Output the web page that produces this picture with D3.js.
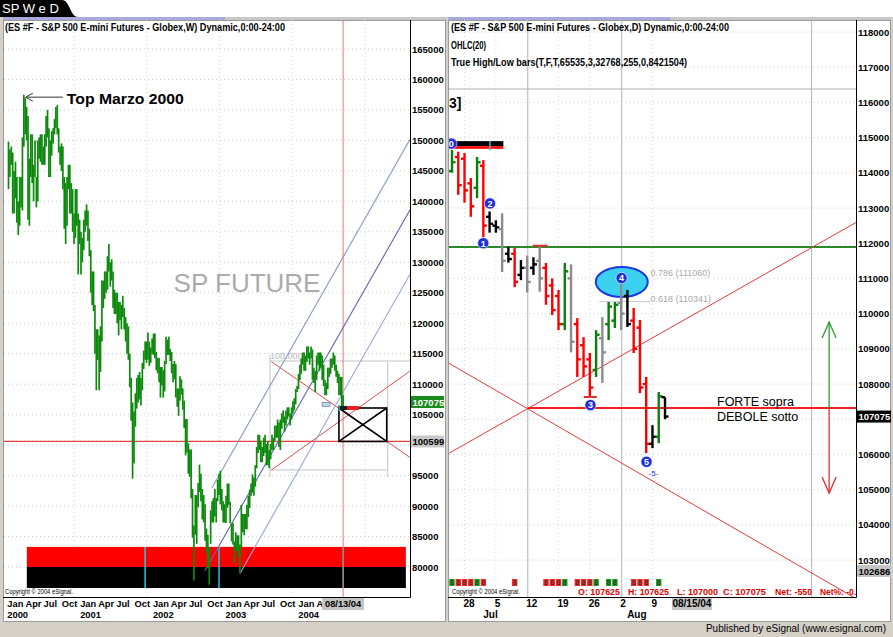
<!DOCTYPE html>
<html><head><meta charset="utf-8">
<script src="https://cdn.jsdelivr.net/npm/d3@7"></script>
<style>
body{margin:0;background:#d4d0c8;}
svg{display:block;}
text{font-family:"Liberation Sans",Arial,sans-serif;}
</style></head><body>
<svg id="c" width="893" height="637"></svg>
<script>
// ================= DATA =================
// Weekly ES bars (index points), weeks ending Friday, first week 2000-01-07
const weeklyStart = "2000-01-07";
const weeklyHigh = [
1498,1485,1490,1480,1450,1465,1440,1400,1440,1440,1505,1575,1570,1555,1540,1470,1510,1510,1460,1500,1440,1500,1505,1510,1510,1490,1510,1540,1550,1520,1500,1515,1520,1535,1555,1558,1520,1490,1495,1490,1440,1430,1440,1460,1460,1430,1420,1380,1420,1420,1380,1370,
1350,1340,1370,1385,1395,1385,1355,1320,1285,1285,1230,1190,1190,1180,1195,1270,1270,1285,1285,1310,1330,1300,1305,1285,1255,1250,1250,1235,1235,1230,1245,1225,1210,1200,1195,1150,1110,1070,1055,1085,1110,1115,1120,1110,1135,1155,1170,1170,1185,1170,1160,1175,
1183,1183,1153,1143,1143,1128,1128,1123,1138,1178,1173,1178,1158,1153,1133,1138,1133,1093,1093,1113,1108,1093,1073,1043,1043,1003,993,993,928,868,918,918,938,968,953,928,918,903,863,853,833,893,908,913,928,913,943,953,958,928,908,903,
917,937,937,907,872,872,842,857,852,852,837,902,887,887,887,902,917,927,937,952,947,967,997,1017,1017,1007,997,1012,1017,1002,1007,992,1002,1017,1012,1032,1032,1042,1037,1042,1052,1057,1047,1057,1062,1062,1052,1062,1072,1077,1092,1097,
1117,1132,1142,1152,1152,1147,1162,1162,1152,1162,1157,1127,1122,1147,1152,1152,1152,1147,1132,1107,1102,1127,1127,1142,1142,1152,1147,1132,1122,1117,1112,1112,1082];
const weeklyLow = [
1420,1440,1460,1380,1380,1405,1365,1345,1360,1390,1385,1490,1510,1500,1370,1360,1440,1430,1400,1440,1390,1400,1470,1465,1460,1460,1460,1490,1505,1440,1440,1475,1495,1510,1520,1510,1480,1460,1450,1420,1355,1330,1360,1420,1380,1380,1350,1330,1340,1360,1280,1330,
1280,1300,1320,1350,1360,1335,1310,1250,1230,1220,1150,1090,1140,1090,1120,1170,1225,1240,1250,1255,1285,1260,1270,1225,1215,1215,1200,1180,1205,1190,1210,1190,1170,1150,1140,1095,1040,945,970,1030,1060,1070,1075,1065,1090,1125,1140,1135,1140,1130,1135,1150,
1148,1143,1123,1118,1103,1078,1098,1078,1088,1133,1148,1148,1138,1118,1103,1108,1078,1063,1048,1073,1083,1058,1028,983,988,953,948,913,848,778,853,838,898,923,908,878,873,843,823,798,771,838,873,873,883,873,908,918,903,893,873,873,
872,897,902,872,842,837,807,827,827,817,790,832,857,852,862,862,882,897,917,922,917,932,962,987,992,972,972,982,987,967,967,962,977,992,992,1007,1012,1012,997,992,1027,1037,1022,1032,1042,1047,1032,1042,1052,1057,1067,1087,
1092,1107,1117,1132,1122,1122,1137,1142,1132,1142,1107,1102,1087,1107,1132,1122,1127,1107,1097,1082,1082,1092,1112,1117,1127,1132,1122,1112,1102,1082,1082,1062,1062];
const leftPriceTicks = [80000,85000,90000,95000,100000,105000,110000,115000,120000,125000,130000,135000,140000,145000,150000,155000,160000,165000];
const leftMonthNames = ["Jan","Apr","Jul","Oct"];
const leftYears = ["2000","2001","2002","2003","2004"];
const leftLastDate = "2004-08-13";
const leftLastLabel = "08/13/04";
const leftLastPrice = 107075;
const leftRefPrice = 100599;
const leftBands = [{top:83300,bottom:80000,color:"#ff0000"},{top:80000,bottom:76550,color:"#000000"}];
const leftBandDates = ["2000-04-08","2005-06-24"];
const leftCyanDates = ["2001-11-23","2002-11-29"];
const pitchfork = [
  {from:["2002-10-24",92980],to:["2005-07-15",150170],color:"#8898cc"},
  {from:["2002-09-19",79400],to:["2005-07-15",138610],color:"#6464b0"},
  {from:["2003-03-14",78950],to:["2005-07-15",128050],color:"#96a6dc"}];
const leftRedLines = [
  {from:["2003-08-19",95920],to:["2005-07-15",112160]},
  {from:["2003-08-19",113690],to:["2005-07-15",97970]}];
const fibBoxDates = ["2003-08-12","2005-03-25","2005-07-15"];
const fibBoxPrices = [113800,95920];
const xBox = {d0:"2004-07-23",d1:"2005-03-20",top:106090,bottom:100599};

// Daily ES bars (points x100)
const dailyDates = ["2004-06-24","2004-06-25","2004-06-28","2004-06-29","2004-06-30","2004-07-01","2004-07-02","2004-07-05","2004-07-06","2004-07-07","2004-07-08","2004-07-09","2004-07-12","2004-07-13","2004-07-14","2004-07-15","2004-07-16","2004-07-19","2004-07-20","2004-07-21","2004-07-22","2004-07-23","2004-07-26","2004-07-27","2004-07-28","2004-07-29","2004-07-30","2004-08-02","2004-08-03","2004-08-04","2004-08-05","2004-08-06","2004-08-09","2004-08-10","2004-08-11"];
const dailyOpen  = [114050,114450,114400,113700,113575,114200,112750,112500,112400,111700,111700,111100,111300,111300,111500,111300,110800,110500,109700,111000,109700,109100,108700,108400,109300,109700,109800,110300,110500,109800,109600,108000,106300,106500,107625];
const dailyHigh  = [114650,114600,114560,113850,114450,114360,112900,112650,112850,111900,111860,111520,111650,111600,111900,111440,111000,110670,111440,111400,109870,109330,108880,109530,109900,110330,110330,110900,110670,110160,109820,108200,106830,107770,107625];
const dailyLow   = [114000,113375,113150,112750,113280,112175,112300,112300,111180,111450,110750,110950,110600,111100,110620,110250,109960,109530,109530,108900,108200,108200,107630,108200,108030,109250,109590,109530,109620,108880,107740,106040,106180,106320,107000];
const dailyClose = [114300,113650,113500,113050,114300,112500,112550,112450,111500,111550,110900,111300,110900,111400,111000,110500,110100,109700,111200,109200,108700,108500,107900,109400,108900,110200,110250,110000,109700,109000,107900,106300,106500,107650,107075];
const dailyColor = ["g","r","r","r","g","r","k","k","s","k","r","k","s","k","s","r","r","r","g","s","r","r","r","g","s","g","g","s","k","r","r","r","k","g","k"];
const rightPriceTicks = [103000,104000,105000,106000,107000,108000,109000,110000,111000,112000,113000,114000,115000,116000,117000,118000];
const rightLastPrice = 107075;
const rightLowPrice = 102686;
const cursorIndex = 38.3, cursorLabel = "08/15/04";
const waveMarkers = [{n:"0",i:-0.1,p:114830},{n:"2",i:6.06,p:113130},{n:"1",i:4.99,p:112000},{n:"3",i:22.1,p:107400},{n:"4",i:27.06,p:111010},{n:"5",i:31.05,p:105790}];
const cycleLines = [12.1,27.1,57.4];
const greenLevel = 111890, redLevel = 107318, topGrayLevel = 116380;
const rightRedLines = [{from:[-0.5,106030],to:[65,112640]},{from:[-0.5,108590],to:[65,101850]}];
const fibLevels = [{r:"0.786",p:111060},{r:"0.618",p:110341}];
const ohlcText = [["O: 107625",578,42],["H: 107625",628,41],["L: 107000",677,41],["C: 107075",723,43],["Net: -550",775,37],["Net%: -0.",820,36]];

// ================= DRAW =================
const pd = d3.utcParse("%Y-%m-%d");
const svg = d3.select("#c");
const defs = svg.append("defs");
defs.append("clipPath").attr("id","clipL").append("rect").attr("x",4).attr("y",20).attr("width",406).attr("height",577);
defs.append("clipPath").attr("id","clipR").append("rect").attr("x",449).attr("y",20).attr("width",407).attr("height",577);

svg.append("rect").attr("width",893).attr("height",637).attr("fill","#d4d0c8");
svg.append("rect").attr("width",893).attr("height",17).attr("fill","#ffffff");
svg.append("path").attr("d","M0,0H62C70,0 70,17 78,17H0Z").attr("fill","#000");
svg.append("text").attr("x",2).attr("y",13).attr("fill","#fff").attr("font-size",13).text("SP W e D");

function panel(x0,x1){
  svg.append("rect").attr("x",x0).attr("y",17).attr("width",x1-x0).attr("height",3).attr("fill","#c8c8c8");
  svg.append("rect").attr("x",x0).attr("y",17).attr("width",222).attr("height",3).attr("fill","#a9a9dc");
  svg.append("rect").attr("x",x0+0.5).attr("y",20.5).attr("width",x1-x0-1).attr("height",601).attr("fill","#fff").attr("stroke","#9a9a9a");
}
panel(3,446); panel(448,891);

// ---------- LEFT ----------
const xL = d3.scaleUtc().domain([Date.UTC(2000,0,1),Date.UTC(2004,0,1)]).range([7.3,298.3]);
const yL = d3.scaleLinear().domain([80000,165000]).range([567,49]);
const wStart = pd(weeklyStart);
const wDate = i => d3.utcDay.offset(wStart,7*i);
const gL = svg.append("g").attr("clip-path","url(#clipL)");

gL.append("g").selectAll("line").data(leftPriceTicks).join("line")
  .attr("x1",4).attr("x2",410).attr("y1",d=>yL(d)).attr("y2",d=>yL(d))
  .attr("stroke","#cfcfcf").attr("stroke-dasharray","1,3");
gL.append("g").selectAll("line").data(leftYears).join("line")
  .attr("x1",d=>xL(Date.UTC(+d,11,1))).attr("x2",d=>xL(Date.UTC(+d,11,1)))
  .attr("y1",20).attr("y2",597).attr("stroke","#d8d8d8").attr("stroke-dasharray","1,3");

// bands
gL.append("g").selectAll("rect").data(leftBands).join("rect")
  .attr("x",xL(pd(leftBandDates[0]))).attr("width",xL(pd(leftBandDates[1]))-xL(pd(leftBandDates[0])))
  .attr("y",d=>yL(d.top)).attr("height",d=>yL(d.bottom)-yL(d.top)).attr("fill",d=>d.color);
gL.append("g").selectAll("line").data(leftCyanDates).join("line")
  .attr("x1",d=>xL(pd(d))).attr("x2",d=>xL(pd(d))).attr("y1",yL(83300)).attr("y2",yL(76550))
  .attr("stroke","#20c8e8").attr("stroke-width",1.5);
gL.append("line").attr("x1",xL(pd(leftLastDate))).attr("x2",xL(pd(leftLastDate))).attr("y1",yL(83300)).attr("y2",yL(76550)).attr("stroke","#2a9a9a").attr("stroke-width",1.5);

// fib gray box
const fb0=xL(pd(fibBoxDates[0])), fb1=xL(pd(fibBoxDates[1])), fb2=xL(pd(fibBoxDates[2]));
const gGray = gL.append("g").attr("stroke","#c4c4c4").attr("fill","none");
gGray.append("line").attr("x1",fb0).attr("x2",fb2).attr("y1",yL(fibBoxPrices[0])).attr("y2",yL(fibBoxPrices[0]));
gGray.append("line").attr("x1",fb0).attr("x2",fb1).attr("y1",yL(fibBoxPrices[1])).attr("y2",yL(fibBoxPrices[1]));
gGray.append("line").attr("x1",fb0).attr("x2",fb0).attr("y1",yL(fibBoxPrices[0])-6).attr("y2",yL(fibBoxPrices[1])+7);
gGray.append("line").attr("x1",fb1).attr("x2",fb1).attr("y1",yL(fibBoxPrices[0])).attr("y2",yL(fibBoxPrices[1])+7);
gL.append("text").attr("x",fb0).attr("y",yL(fibBoxPrices[0])-2).attr("font-size",9).attr("fill","#b8b8b8").text("100.000");

// reference lines
gL.append("line").attr("x1",4).attr("x2",410).attr("y1",yL(leftRefPrice)).attr("y2",yL(leftRefPrice)).attr("stroke","#e84040").attr("stroke-width",1.2);
gL.append("line").attr("x1",xL(pd(leftLastDate))).attr("x2",xL(pd(leftLastDate))).attr("y1",20).attr("y2",597).attr("stroke","#e87878");
gL.append("g").selectAll("line").data(leftRedLines).join("line")
  .attr("x1",d=>xL(pd(d.from[0]))).attr("y1",d=>yL(d.from[1])).attr("x2",d=>xL(pd(d.to[0]))).attr("y2",d=>yL(d.to[1]))
  .attr("stroke","#e05050");
gL.append("g").selectAll("line").data(pitchfork).join("line")
  .attr("x1",d=>xL(pd(d.from[0]))).attr("y1",d=>yL(d.from[1])).attr("x2",d=>xL(pd(d.to[0]))).attr("y2",d=>yL(d.to[1]))
  .attr("stroke",d=>d.color).attr("stroke-width",1.1);

// weekly bars
gL.append("g").selectAll("line").data(weeklyHigh).join("line")
  .attr("x1",(d,i)=>xL(wDate(i))).attr("x2",(d,i)=>xL(wDate(i)))
  .attr("y1",d=>yL(d*100)).attr("y2",(d,i)=>yL(weeklyLow[i]*100))
  .attr("stroke","#0d8a0d").attr("stroke-width",1.7);

// X box
const bx0=xL(pd(xBox.d0)), bx1=xL(pd(xBox.d1)), by0=yL(xBox.top), by1=yL(xBox.bottom);
const gX = gL.append("g").attr("stroke","#000").attr("stroke-width",1.6).attr("fill","none");
gX.append("rect").attr("x",bx0).attr("y",by0).attr("width",bx1-bx0).attr("height",by1-by0);
gX.append("line").attr("x1",bx0).attr("y1",by0).attr("x2",bx1).attr("y2",by1);
gX.append("line").attr("x1",bx0).attr("y1",by1).attr("x2",bx1).attr("y2",by0);
const lx = xL(pd(leftLastDate));
gL.append("rect").attr("x",lx-21).attr("y",yL(107000)).attr("width",8).attr("height",4).attr("fill","#b8d8e8").attr("stroke","#607080").attr("stroke-width",0.6);
gL.append("rect").attr("x",lx-5).attr("y",by0-2).attr("width",9).attr("height",4).attr("fill","#1a1a1a");
gL.append("rect").attr("x",lx+4).attr("y",by0-2).attr("width",12).attr("height",4).attr("fill","#ee2020");
gL.append("line").attr("x1",lx-4).attr("x2",lx-4).attr("y1",by0-3).attr("y2",by0+3).attr("stroke","#30b0b0").attr("stroke-width",1.5);

// annotations
gL.append("text").attr("x",247).attr("y",292).attr("text-anchor","middle").attr("font-size",26).attr("fill","#ababab").text("SP FUTURE");
const topI = weeklyHigh.indexOf(d3.max(weeklyHigh));
const tipX = xL(wDate(topI))+2, tipY = yL(157100);
gL.append("path").attr("d",`M${tipX+37},${tipY}H${tipX}M${tipX+7},${tipY-4}L${tipX},${tipY}L${tipX+7},${tipY+4}`).attr("stroke","#333").attr("fill","none");
gL.append("text").attr("x",tipX+41).attr("y",tipY+7).attr("font-family","DejaVu Sans").attr("font-weight","bold").attr("font-size",14).attr("textLength",117).attr("lengthAdjust","spacingAndGlyphs").text("Top Marzo 2000");

// header, frames
svg.append("text").attr("x",5).attr("y",31).attr("font-size",10).attr("font-weight","bold").attr("textLength",280).attr("lengthAdjust","spacingAndGlyphs").text("(ES #F - S&P 500 E-mini Futures - Globex,W) Dynamic,0:00-24:00");
svg.append("text").attr("x",5).attr("y",594).attr("font-size",7).attr("textLength",68).attr("lengthAdjust","spacingAndGlyphs").text("Copyright \u00A9 2004 eSignal.");
svg.append("line").attr("x1",410.5).attr("x2",410.5).attr("y1",20).attr("y2",597.5).attr("stroke","#000");
svg.append("line").attr("x1",3).attr("x2",410.5).attr("y1",597.5).attr("y2",597.5).attr("stroke","#000");

function priceBox(x,y,w,label,bg,fg){
  svg.append("rect").attr("x",x).attr("y",y-6).attr("width",w).attr("height",12).attr("fill",bg);
  svg.append("text").attr("x",x+1.5).attr("y",y+3.5).attr("font-size",9.5).attr("font-weight","bold").attr("fill",fg).text(label);
}
// left y axis labels (labels hidden behind value boxes are skipped)
const leftBoxes = [leftLastPrice,leftRefPrice];
svg.append("g").selectAll("text").data(leftPriceTicks.filter(v=>leftBoxes.every(b=>Math.abs(yL(v)-yL(b))>10))).join("text")
  .attr("x",412).attr("y",d=>yL(d)+3.5).attr("font-size",9.5).attr("font-weight","bold").text(d=>d);
priceBox(411,yL(leftLastPrice),33,leftLastPrice,"#1c8c1c","#ffffff");
priceBox(411,yL(leftRefPrice),33,leftRefPrice,"#c8c8c8","#000000");

// left x axis
const boxL = lx-21;
const qDates = d3.utcMonth.every(3).range(new Date(Date.UTC(2000,0,1)), pd(leftLastDate)).filter(d=>xL(d) < boxL-2);
svg.append("g").selectAll("text").data(qDates).join("text")
  .attr("x",d=>xL(d)).attr("y",607).attr("font-size",9.3).attr("font-weight","bold")
  .text(d=>{ const n=leftMonthNames[d.getUTCMonth()/3]; return xL(d)+15>boxL ? n[0] : n; });
svg.append("g").selectAll("text").data(leftYears).join("text")
  .attr("x",d=>xL(Date.UTC(+d,0,1))).attr("y",618).attr("font-size",9.3).attr("font-weight","bold").text(d=>d);
svg.append("rect").attr("x",boxL).attr("y",598).attr("width",42).attr("height",12).attr("fill","#c4c4c4");
svg.append("text").attr("x",lx).attr("y",607).attr("text-anchor","middle").attr("font-size",9.3).attr("font-weight","bold").text(leftLastLabel);

// ---------- RIGHT ----------
const xR = d3.scaleLinear().domain([0,34]).range([452,665]);
const yR = d3.scaleLinear().domain([103000,118000]).range([560,32]);
const gR = svg.append("g").attr("clip-path","url(#clipR)");
const mondays = dailyDates.map((d,i)=>({d:pd(d),i})).filter(o=>o.d.getUTCDay()===1);

gR.append("g").selectAll("line").data(rightPriceTicks).join("line")
  .attr("x1",449).attr("x2",856).attr("y1",d=>yR(d)).attr("y2",d=>yR(d))
  .attr("stroke","#d4d4d4").attr("stroke-dasharray","1,3");
gR.append("g").selectAll("line").data(mondays).join("line")
  .attr("x1",d=>xR(d.i)).attr("x2",d=>xR(d.i)).attr("y1",20).attr("y2",597)
  .attr("stroke","#dcdcdc").attr("stroke-dasharray","1,3");
gR.append("g").selectAll("line").data(cycleLines).join("line")
  .attr("x1",d=>xR(d)).attr("x2",d=>xR(d)).attr("y1",20).attr("y2",597).attr("stroke","#b4b4b4");
gR.append("line").attr("x1",449).attr("x2",856).attr("y1",yR(topGrayLevel)).attr("y2",yR(topGrayLevel)).attr("stroke","#b0b0b0");
gR.append("line").attr("x1",xR(-0.5)).attr("x2",xR(65)).attr("y1",yR(greenLevel)).attr("y2",yR(greenLevel)).attr("stroke","#2a8a2a").attr("stroke-width",2);
gR.append("g").selectAll("line").data(rightRedLines).join("line")
  .attr("x1",d=>xR(d.from[0])).attr("y1",d=>yR(d.from[1])).attr("x2",d=>xR(d.to[0])).attr("y2",d=>yR(d.to[1]))
  .attr("stroke","#e03c3c");
const [a,b]=rightRedLines;
const sA=(a.to[1]-a.from[1])/(a.to[0]-a.from[0]), sB=(b.to[1]-b.from[1])/(b.to[0]-b.from[0]);
const xCross = a.from[0] + (b.from[1]-a.from[1])/(sA-sB);
gR.append("line").attr("x1",xR(xCross)).attr("x2",xR(65)).attr("y1",yR(redLevel)).attr("y2",yR(redLevel)).attr("stroke","#ee2020").attr("stroke-width",2);

// arrows
const ax = xR(60.2);
gR.append("line").attr("x1",ax).attr("x2",ax).attr("y1",yR(redLevel)).attr("y2",yR(109760)).attr("stroke","#2a9a2a").attr("stroke-width",1.3);
gR.append("path").attr("d",`M${ax-7},${yR(109760)+16}L${ax},${yR(109760)}L${ax+7},${yR(109760)+16}`).attr("stroke","#2a9a2a").attr("fill","none").attr("stroke-width",1.3);
gR.append("line").attr("x1",ax).attr("x2",ax).attr("y1",yR(redLevel)).attr("y2",yR(104900)).attr("stroke","#e03030").attr("stroke-width",1.3);
gR.append("path").attr("d",`M${ax-7},${yR(104900)-16}L${ax},${yR(104900)}L${ax+7},${yR(104900)-16}`).attr("stroke","#e03030").attr("fill","none").attr("stroke-width",1.3);

// ellipse + fib
gR.append("ellipse").attr("cx",xR(27.1)).attr("cy",yR(110900)).attr("rx",26).attr("ry",15).attr("fill","#3cd0f0").attr("stroke","#1838e0").attr("stroke-width",2);
gR.append("line").attr("x1",xR(23.5)).attr("x2",xR(31.6)).attr("y1",yR(fibLevels[1].p)).attr("y2",yR(fibLevels[1].p)).attr("stroke","#c8c8c8");
gR.append("g").selectAll("text").data(fibLevels).join("text")
  .attr("x",xR(31.7)).attr("y",d=>yR(d.p)).attr("font-size",9).attr("fill","#a8a8a8")
  .text(d=>`${d.r} (${d.p})`);

// top bar block
gR.append("rect").attr("x",xR(-0.2)).attr("width",xR(8.2)-xR(-0.2)).attr("y",yR(114900)).attr("height",yR(114760)-yR(114900)).attr("fill","#000");
gR.append("rect").attr("x",xR(-0.2)).attr("width",xR(8.2)-xR(-0.2)).attr("y",yR(114760)).attr("height",yR(114680)-yR(114760)).attr("fill","#ff1010");
gR.append("line").attr("x1",xR(6.06)).attr("x2",xR(6.06)).attr("y1",yR(114900)).attr("y2",yR(114640)).attr("stroke","#30c0d0").attr("stroke-width",1.5);

// daily bars
const colMap = {g:"#0a800a",r:"#ff0000",k:"#000000",s:"#8c8c8c"};
const gBars = gR.append("g").selectAll("g").data(dailyDates).join("g").attr("stroke",(d,i)=>colMap[dailyColor[i]]).attr("stroke-width",2.4);
gBars.append("line").attr("x1",(d,i)=>xR(i)).attr("x2",(d,i)=>xR(i)).attr("y1",(d,i)=>yR(dailyHigh[i])).attr("y2",(d,i)=>yR(dailyLow[i]));
gBars.append("line").attr("x1",(d,i)=>xR(i)-3.5).attr("x2",(d,i)=>xR(i)).attr("y1",(d,i)=>yR(dailyOpen[i])).attr("y2",(d,i)=>yR(dailyOpen[i]));
gBars.append("line").attr("x1",(d,i)=>xR(i)).attr("x2",(d,i)=>xR(i)+3.5).attr("y1",(d,i)=>yR(dailyClose[i])).attr("y2",(d,i)=>yR(dailyClose[i]));

// swing markers
gR.append("line").attr("x1",xR(14)-7).attr("x2",xR(14)+8).attr("y1",yR(dailyHigh[14])-1).attr("y2",yR(dailyHigh[14])-1).attr("stroke","#e03030").attr("stroke-width",2);
gR.append("line").attr("x1",xR(22)-6).attr("x2",xR(22)+7).attr("y1",yR(dailyLow[22])).attr("y2",yR(dailyLow[22])).attr("stroke","#e03030").attr("stroke-width",2);

// wave markers
const gM = gR.append("g").selectAll("g").data(waveMarkers).join("g").attr("transform",d=>`translate(${xR(d.i)},${yR(d.p)})`);
gM.append("circle").attr("r",5.6).attr("fill","#1c2ee0").attr("stroke","#ffffff").attr("stroke-width",0.6);
gM.append("text").attr("y",3.3).attr("text-anchor","middle").attr("font-size",9).attr("font-weight","bold").attr("fill","#fff").text(d=>d.n);
gR.append("text").attr("x",xR(31.05)+2).attr("y",yR(105790)+14).attr("font-size",8).attr("fill","#1c2ee0").text("-5-");

// signal boxes
const sig = dailyDates.map((d,i)=>i).filter(i=>dailyColor[i]==="r"||dailyColor[i]==="g");
const gS = gR.append("g").selectAll("g").data(sig).join("g").attr("transform",i=>`translate(${xR(i)},579)`);
gS.append("rect").attr("x",-2.7).attr("width",5.4).attr("height",7).attr("fill",i=>dailyColor[i]==="r"?"#ff2a2a":"#22a022");
gS.append("text").attr("y",6.3).attr("text-anchor","middle").attr("font-size",7).attr("fill","#202020").text("8");

// texts right
svg.append("text").attr("x",451).attr("y",31).attr("font-size",10).attr("font-weight","bold").attr("textLength",278).attr("lengthAdjust","spacingAndGlyphs").text("(ES #F - S&P 500 E-mini Futures - Globex,D) Dynamic,0:00-24:00");
svg.append("text").attr("x",451).attr("y",49).attr("font-size",10).attr("font-weight","bold").attr("textLength",35).attr("lengthAdjust","spacingAndGlyphs").text("OHLC(20)");
svg.append("text").attr("x",451).attr("y",66).attr("font-size",10).attr("font-weight","bold").attr("textLength",236).attr("lengthAdjust","spacingAndGlyphs").text("True High/Low bars(T,F,T,65535,3,32768,255,0,8421504)");
svg.append("text").attr("x",449).attr("y",108).attr("font-size",14).attr("font-weight","bold").text("3]");
svg.append("text").attr("x",717).attr("y",406).attr("font-size",12.5).text("FORTE sopra");
svg.append("text").attr("x",717).attr("y",421).attr("font-size",12.5).text("DEBOLE sotto");
svg.append("g").selectAll("text").data(ohlcText).join("text")
  .attr("x",d=>d[1]).attr("y",595).attr("font-size",9.5).attr("font-weight","bold").attr("fill","#e00000")
  .attr("textLength",d=>d[2]).attr("lengthAdjust","spacingAndGlyphs").text(d=>d[0]);
svg.append("text").attr("x",452).attr("y",594).attr("font-size",7).attr("textLength",68).attr("lengthAdjust","spacingAndGlyphs").text("Copyright \u00A9 2004 eSignal.");
svg.append("line").attr("x1",856.5).attr("x2",856.5).attr("y1",20).attr("y2",597.5).attr("stroke","#000");
svg.append("line").attr("x1",448).attr("x2",856.5).attr("y1",597.5).attr("y2",597.5).attr("stroke","#000");

// right y labels
const rightBoxes = [rightLastPrice,rightLowPrice];
svg.append("g").selectAll("text").data(rightPriceTicks.filter(v=>rightBoxes.every(b=>Math.abs(yR(v)-yR(b))>10))).join("text")
  .attr("x",858).attr("y",d=>yR(d)+3.5).attr("font-size",9.5).attr("font-weight","bold").text(d=>d);
priceBox(857,yR(rightLastPrice),34,rightLastPrice,"#000000","#ffffff");
priceBox(857,yR(rightLowPrice),34,rightLowPrice,"#c4c4c4","#000000");

// right x axis
svg.append("g").selectAll("text").data(mondays).join("text")
  .attr("x",d=>xR(d.i)-1).attr("y",607).attr("font-size",10).attr("font-weight","bold").text(d=>d.d.getUTCDate());
const monthFirst = [];
dailyDates.forEach((d,i)=>{ const m=pd(d).getUTCMonth(); if(i>0 && m!==pd(dailyDates[i-1]).getUTCMonth()) monthFirst.push({i,m}); });
const monthNames = ["Jan","Feb","Mar","Apr","May","Jun","Jul","Aug","Sep","Oct","Nov","Dec"];
svg.append("g").selectAll("text").data(monthFirst).join("text")
  .attr("x",d=>xR(d.i)+ (d.m===7?6:0)).attr("y",618).attr("font-size",10).attr("font-weight","bold").text(d=>monthNames[d.m]);
svg.append("rect").attr("x",xR(cursorIndex)-20).attr("y",598).attr("width",40).attr("height",12).attr("fill","#c4c4c4");
svg.append("text").attr("x",xR(cursorIndex)).attr("y",607).attr("text-anchor","middle").attr("font-size",10).attr("font-weight","bold").text(cursorLabel);

// status bar
svg.append("text").attr("x",886).attr("y",632).attr("text-anchor","end").attr("font-size",10).text("Published by eSignal (www.esignal.com)");
</script></body></html>
